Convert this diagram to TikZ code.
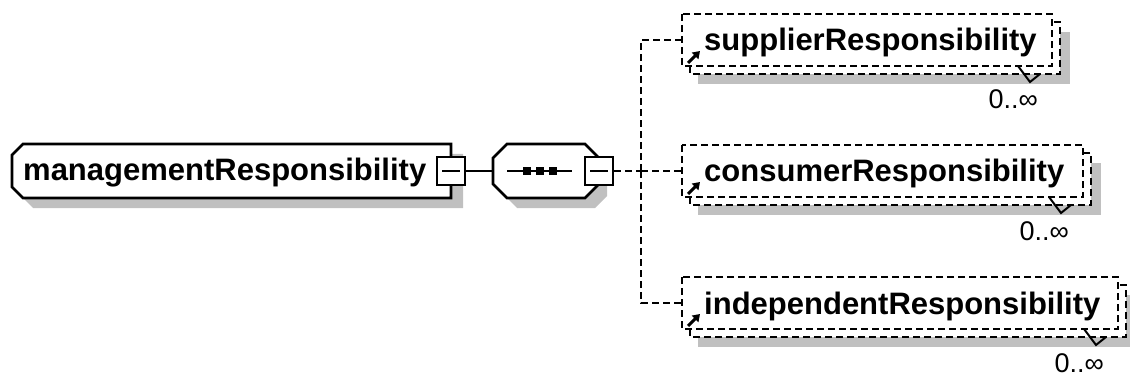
\documentclass[tikz,border=0pt]{standalone}
\usepackage{fontspec}
\setmainfont{Liberation Sans}
\usetikzlibrary{arrows.meta}
\definecolor{shadowgray}{RGB}{192,192,192}
\tikzset{
  edge/.style={line width=2.6pt},
  optedge/.style={line width=2.5pt, dash pattern=on 7pt off 4pt},
  elname/.style={font=\fontsize{31}{31}\selectfont\bfseries, inner sep=0pt, anchor=base west},
  occurs/.style={font=\fontsize{27}{27}\selectfont, inner sep=0pt, anchor=base east},
  minusbox/.style={draw, fill=white, line width=2.6pt, minimum width=28pt,
    minimum height=28pt, inner sep=0pt,
    path picture={\draw[line width=2.6pt]
      ([xshift=5pt]path picture bounding box.west) --
      ([xshift=-5pt]path picture bounding box.east);}},
  refarrow/.style={line width=3pt, -{Triangle[length=7pt,width=9pt]}},
  marker/.style={line width=2pt},
  dropshadow/.style={fill=shadowgray},
}
% optional, repeated child element referencing a global declaration
% #1 name, #2 top of front box, #3 right of front box, #4 element name
\newcommand\xsdchild[4]{%
  \path[dropshadow] (698,{#2+18}) rectangle ({#3+18},{#2+70});
  \draw[optedge, fill=white] (690,{#2+8}) rectangle ({#3+8},{#2+60});
  \draw[optedge, fill=white] (682,#2) rectangle (#3,{#2+52});
  \coordinate (#1) at (682,{#2+26});
  \node[elname] (#1-name) at (704,{#2+37}) {#4};
  \draw[refarrow] (688,{#2+49}) -- (700,{#2+37});
  \draw[marker] ({#3-34},{#2+52}) -- ({#3-22},{#2+68}) -- ({#3-12},{#2+60});
  \node[occurs] (#1-occ) at ({#3-14},{#2+95}) {0..∞};
}
\begin{document}
\begin{tikzpicture}[x=1pt,y=-1pt]
\useasboundingbox (0,0) rectangle (1130,377);

% root element
\path[dropshadow] (33,154) -- (463,154) -- (463,208) -- (33,208) -- (22,197) -- (22,165) -- cycle;
\draw[edge, fill=white] (23,144) -- (451,144) -- (451,198) -- (23,198) -- (12,187) -- (12,155) -- cycle;
\node[elname] (root) at (23,180) {managementResponsibility};
\node[minusbox] (rootsq) at (451,171) {};

% sequence compositor
\path[dropshadow] (517,154) -- (595,154) -- (607,166) -- (607,196) -- (595,208) -- (517,208) -- (503,194) -- (503,168) -- cycle;
\draw[edge, fill=white] (507,144) -- (585,144) -- (599,158) -- (599,184) -- (585,198)
  -- (507,198) -- (493,184) -- (493,158) -- cycle;
\coordinate (seqL) at (493,171);
\draw[edge] (507,171) -- (572,171);
\foreach \d in {527,540,553} \fill (\d-4,167) rectangle (\d+4,175);
\node[minusbox] (seqsq) at (599,171) {};

\draw[edge] (rootsq.east) -- (seqL);

% children
\xsdchild{sup}{14}{1052}{supplierResponsibility}
\xsdchild{con}{145}{1083}{consumerResponsibility}
\xsdchild{ind}{277}{1118}{independentResponsibility}

\coordinate (bus) at (641,171);
\draw[optedge] (seqsq.east) -- (bus);
\draw[optedge] (bus) |- (sup);
\draw[optedge] (bus) |- (con);
\draw[optedge] (bus) |- (ind);
\end{tikzpicture}
\end{document}
